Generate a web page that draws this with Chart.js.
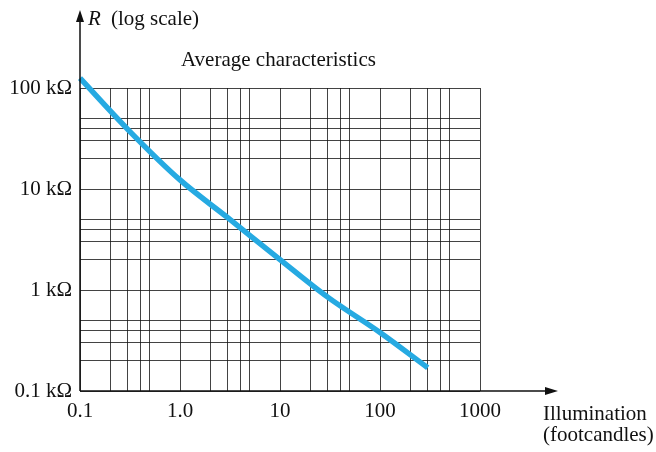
<!DOCTYPE html>
<html>
<head>
<meta charset="utf-8">
<script src="https://cdn.jsdelivr.net/npm/chart.js@4"></script>
<style>
  html, body { margin: 0; padding: 0; background: #fff; }
  #wrap { width: 656px; height: 452px; position: relative; }
</style>
</head>
<body>
<div id="wrap"><canvas id="myChart" width="656" height="452"></canvas></div>
<script>
// illumination (footcandles) and resistance (kOhm)
const illumination = [0.1, 0.3, 1, 3, 10, 30, 100, 300];
const resistance = [125, 39, 12.3, 5.2, 2.0, 0.85, 0.38, 0.17];

// grid lines at 1,2,3,4,5 of each decade
const xGrid = [0.1, 0.2, 0.3, 0.4, 0.5, 1, 2, 3, 4, 5, 10, 20, 30, 40, 50, 100, 200, 300, 400, 500, 1000];
const yGrid = [0.1, 0.2, 0.3, 0.4, 0.5, 1, 2, 3, 4, 5, 10, 20, 30, 40, 50, 100];

const xTickValues = [0.1, 1, 10, 100, 1000];
const xTickLabels = ['0.1', '1.0', '10', '100', '1000'];
const yTickValues = [0.1, 1, 10, 100];
const yTickLabels = ['0.1 kΩ', '1 kΩ', '10 kΩ', '100 kΩ'];

const serif = '"Liberation Serif", "DejaVu Serif", serif';

function labelFor(values, labels, v) {
    let i = values.findIndex(t => Math.abs(t - v) / t < 1e-6);
    return i >= 0 ? labels[i] : '';
}

const extras = {
    id: 'extras',
    afterDraw(chart) {
        const c = chart.ctx;
        const a = chart.chartArea;
        c.save();
        c.strokeStyle = '#111';
        c.fillStyle = '#111';
        c.lineWidth = 1.5;
        // axes with arrows
        c.beginPath();
        c.moveTo(a.left, a.bottom);
        c.lineTo(a.left, 16);
        c.moveTo(a.left, a.bottom);
        c.lineTo(551, a.bottom);
        c.stroke();
        c.beginPath();
        c.moveTo(a.left, 10);
        c.lineTo(a.left - 4, 22);
        c.lineTo(a.left + 4, 22);
        c.closePath();
        c.fill();
        c.beginPath();
        c.moveTo(558, a.bottom);
        c.lineTo(545, a.bottom - 4);
        c.lineTo(545, a.bottom + 4);
        c.closePath();
        c.fill();

        c.textBaseline = 'alphabetic';
        c.textAlign = 'left';
        c.font = 'italic 21px ' + serif;
        c.fillText('R', 88, 25);
        c.font = '21px ' + serif;
        c.fillText('(log scale)', 111, 25);
        c.fillText('Average characteristics', 181, 66);
        c.fillText('Illumination', 543, 420);
        c.fillText('(footcandles)', 543, 441);
        c.restore();
    }
};

let ctx = document.getElementById('myChart').getContext('2d');

let myChart = new Chart(ctx, {
    type: 'line',
    data: {
        datasets: [{
            data: illumination.map((x, i) => ({ x: x, y: resistance[i] })),
            borderColor: 'rgb(38, 170, 226)',
            borderWidth: 5.5,
            pointRadius: 0,
            cubicInterpolationMode: 'monotone',
            clip: false,
            fill: false
        }]
    },
    options: {
        responsive: false,
        animation: false,
        layout: {
            padding: { left: 0, right: 176, top: 88, bottom: 0 }
        },
        plugins: {
            legend: { display: false },
            tooltip: { enabled: false }
        },
        scales: {
            x: {
                type: 'logarithmic',
                min: 0.1,
                max: 1000,
                afterBuildTicks: s => { s.ticks = xGrid.map(v => ({ value: v })); },
                afterFit: s => { s.height = 61; },
                grid: { color: 'rgba(20,20,20,0.8)', lineWidth: 1, drawTicks: false },
                border: { display: false },
                ticks: {
                    autoSkip: false,
                    maxRotation: 0,
                    padding: 8,
                    color: '#111',
                    font: { family: serif, size: 21 },
                    callback: v => labelFor(xTickValues, xTickLabels, v)
                }
            },
            y: {
                type: 'logarithmic',
                min: 0.1,
                max: 100,
                afterBuildTicks: s => { s.ticks = yGrid.map(v => ({ value: v })); },
                afterFit: s => { s.width = 80; },
                grid: { color: 'rgba(20,20,20,0.8)', lineWidth: 1, drawTicks: false },
                border: { display: false },
                ticks: {
                    autoSkip: false,
                    padding: 8,
                    color: '#111',
                    font: { family: serif, size: 21 },
                    callback: v => labelFor(yTickValues, yTickLabels, v)
                }
            }
        }
    },
    plugins: [extras]
});
</script>
</body>
</html>
